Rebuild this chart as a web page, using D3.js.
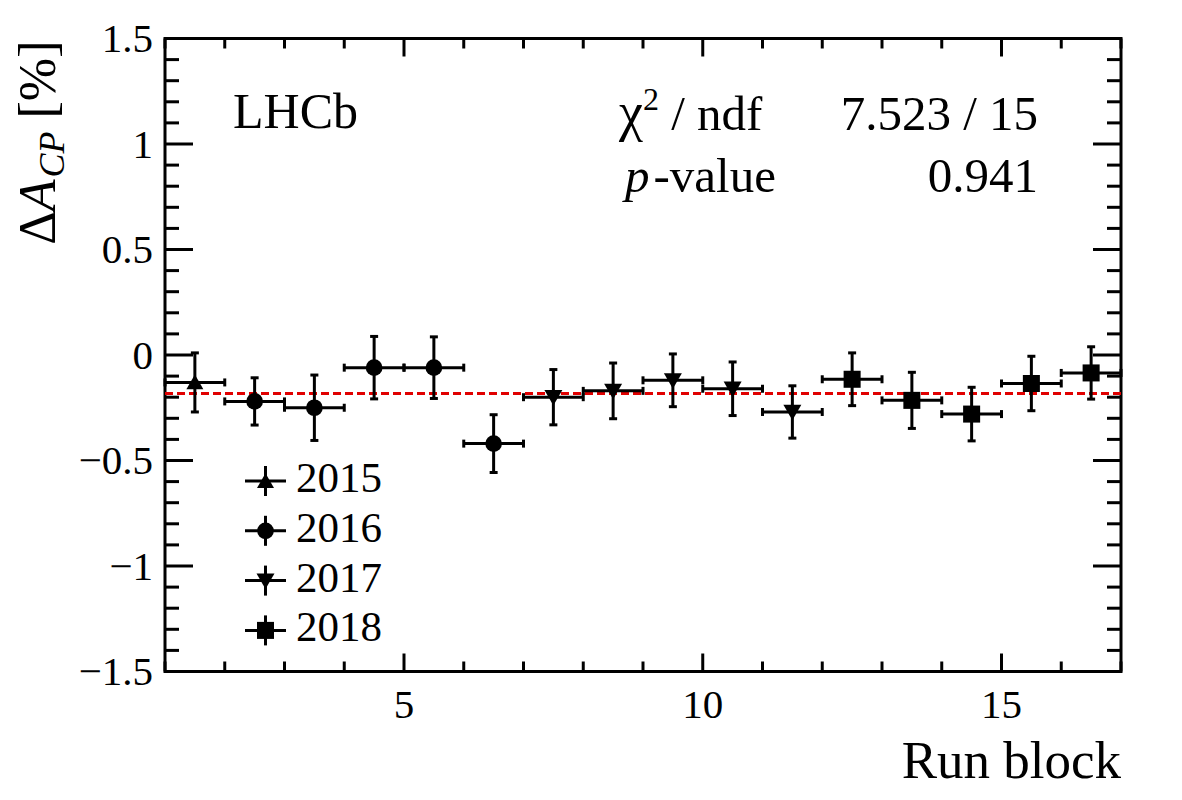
<!DOCTYPE html>
<html lang="en">

<head>
    <meta charset="UTF-8">
    <title>Delta A_CP per run block</title>
    <script src="https://d3js.org/d3.v7.min.js"></script>
    <style>
        body {
            margin: 0;
            background: #fff;
        }

        svg text {
            font-family: "Liberation Serif", "DejaVu Serif", serif;
            fill: #000;
        }
    </style>
</head>

<body>
    <div id="chart"></div>

    <script>
        // data
        const runBlocks = [1.5, 2.5, 3.5, 4.5, 5.5, 6.5, 7.5, 8.5, 9.5, 10.5, 11.5, 12.5, 13.5, 14.5, 15.5, 16.5];
        const binHalf = [0.5, 0.5, 0.5, 0.5, 0.5, 0.5, 0.5, 0.5, 0.5, 0.5, 0.5, 0.5, 0.5, 0.5, 0.5, 0.5];
        const years = [2015, 2016, 2016, 2016, 2016, 2016, 2017, 2017, 2017, 2017, 2017, 2018, 2018, 2018, 2018, 2018];
        const deltaACP = [-0.13, -0.22, -0.25, -0.06, -0.06, -0.42, -0.20, -0.17, -0.12, -0.16, -0.27, -0.115, -0.215, -0.28, -0.135, -0.085];
        const errACP = [0.14, 0.112, 0.155, 0.148, 0.146, 0.137, 0.131, 0.132, 0.125, 0.127, 0.124, 0.125, 0.133, 0.127, 0.129, 0.124];
        const fitValue = -0.183;

        const legendYears = [2015, 2016, 2017, 2018];
        const xTicks = [5, 10, 15];
        const yTicks = [-1.5, -1, -0.5, 0, 0.5, 1, 1.5];
        const statValues = ["7.523 / 15", "0.941"];

        const width = 1182;
        const height = 800;
        const marginTop = 38.5;
        const marginRight = 61;
        const marginBottom = 128.5;
        const marginLeft = 165;

        const x = d3.scaleLinear()
            .domain([1, 17])
            .range([marginLeft, width - marginRight]);

        const y = d3.scaleLinear()
            .domain([-1.5, 1.5])
            .range([height - marginBottom, marginTop]);

        const svg = d3.select("#chart")
            .append("svg")
            .attr("width", width)
            .attr("height", height);

        svg.append("rect")
            .attr("width", width)
            .attr("height", height)
            .attr("fill", "#fff");

        // ticks on all four sides, pointing inward (ROOT style)
        const xMinor = d3.range(1, 17.01, 1);
        const yMinor = d3.range(-15, 15.01, 1).map(d => d / 10);
        const x0 = x.range()[0], x1 = x.range()[1];
        const y0 = y.range()[0], y1 = y.range()[1];

        const ticks = svg.append("g")
            .attr("stroke", "#000")
            .attr("stroke-width", 3);

        xMinor.forEach(v => {
            const len = v % 5 === 0 ? 18 : 10;
            ticks.append("line").attr("x1", x(v)).attr("x2", x(v)).attr("y1", y0).attr("y2", y0 - len);
            ticks.append("line").attr("x1", x(v)).attr("x2", x(v)).attr("y1", y1).attr("y2", y1 + len);
        });

        yMinor.forEach(v => {
            const major = Math.abs(Math.round(v * 10)) % 5 === 0;
            const len = major ? 28 : 14;
            ticks.append("line").attr("y1", y(v)).attr("y2", y(v)).attr("x1", x0).attr("x2", x0 + len);
            ticks.append("line").attr("y1", y(v)).attr("y2", y(v)).attr("x1", x1).attr("x2", x1 - len);
        });

        svg.append("rect")
            .attr("x", x0)
            .attr("y", y1)
            .attr("width", x1 - x0)
            .attr("height", y0 - y1)
            .attr("fill", "none")
            .attr("stroke", "#000")
            .attr("stroke-width", 3);

        // tick labels
        svg.append("g")
            .selectAll("text")
            .data(xTicks)
            .join("text")
            .attr("x", d => x(d))
            .attr("y", y0 + 46)
            .attr("text-anchor", "middle")
            .attr("font-size", 41)
            .text(d => d);

        svg.append("g")
            .selectAll("text")
            .data(yTicks)
            .join("text")
            .attr("x", x0 - 12)
            .attr("y", d => y(d))
            .attr("dy", "0.34em")
            .attr("text-anchor", "end")
            .attr("font-size", 41)
            .text(d => d < 0 ? "\u2212" + Math.abs(d) : d);

        // axis titles
        svg.append("text")
            .attr("x", x1)
            .attr("y", 778)
            .attr("text-anchor", "end")
            .attr("font-size", 53)
            .text("Run block");

        const yTitle = svg.append("text")
            .attr("transform", `translate(55,${y1 + 2}) rotate(-90)`)
            .attr("text-anchor", "end")
            .attr("font-size", 52);
        yTitle.append("tspan").text("Δ");
        yTitle.append("tspan").attr("font-style", "italic").text("A");
        yTitle.append("tspan").attr("font-style", "italic").attr("font-size", 36).attr("dy", 9).attr("dx", 2).text("CP");
        yTitle.append("tspan").attr("dy", -9).text(" [%]");

        // fit line
        svg.append("line")
            .attr("x1", x0)
            .attr("x2", x1)
            .attr("y1", y(fitValue))
            .attr("y2", y(fitValue))
            .attr("stroke", "#e00000")
            .attr("stroke-width", 3)
            .attr("stroke-dasharray", "8,4");

        // markers per year
        const shapeOf = {
            2015: { type: d3.symbolTriangle, size: 125, rot: 0, dy: 2 },
            2016: { type: d3.symbolCircle, size: 220, rot: 0, dy: 0 },
            2017: { type: d3.symbolTriangle, size: 140, rot: 180, dy: -2 },
            2018: { type: d3.symbolSquare, size: 290, rot: 0, dy: 0 }
        };

        function marker(g, year, cx, cy, scale) {
            const s = shapeOf[year];
            g.append("path")
                .attr("d", d3.symbol().type(s.type).size(s.size * scale)())
                .attr("transform", `translate(${cx},${cy + s.dy}) rotate(${s.rot})`)
                .attr("fill", "#000");
        }

        const points = runBlocks.map((rb, i) => ({
            x: rb, dx: binHalf[i], v: deltaACP[i], e: errACP[i], year: years[i]
        }));

        const cap = 4;
        const pts = svg.append("g");
        points.forEach(p => {
            const g = pts.append("g");
            const bars = g.append("g")
                .attr("stroke", "#000")
                .attr("stroke-width", 3);
            const cx = x(p.x), cy = y(p.v);
            const xl = x(p.x - p.dx), xr = x(p.x + p.dx);
            const yt = y(p.v + p.e), yb = y(p.v - p.e);
            bars.append("line").attr("x1", xl).attr("x2", xr).attr("y1", cy).attr("y2", cy);
            bars.append("line").attr("x1", cx).attr("x2", cx).attr("y1", yt).attr("y2", yb);
            bars.append("line").attr("x1", xl).attr("x2", xl).attr("y1", cy - cap).attr("y2", cy + cap);
            bars.append("line").attr("x1", xr).attr("x2", xr).attr("y1", cy - cap).attr("y2", cy + cap);
            bars.append("line").attr("x1", cx - cap).attr("x2", cx + cap).attr("y1", yt).attr("y2", yt);
            bars.append("line").attr("x1", cx - cap).attr("x2", cx + cap).attr("y1", yb).attr("y2", yb);
            marker(g, p.year, cx, cy, 1);
        });

        // legend
        const legend = svg.append("g");
        legendYears.forEach((yr, i) => {
            const lx = 265.5;
            const ly = 481 + i * 49.8;
            const g = legend.append("g");
            g.append("line").attr("x1", lx - 20.5).attr("x2", lx + 20.5).attr("y1", ly).attr("y2", ly)
                .attr("stroke", "#000").attr("stroke-width", 3);
            g.append("line").attr("x1", lx).attr("x2", lx).attr("y1", ly - 15).attr("y2", ly + 15)
                .attr("stroke", "#000").attr("stroke-width", 3);
            marker(g, yr, lx, ly, 1);
            g.append("text")
                .attr("x", 296)
                .attr("y", ly + 11)
                .attr("font-size", 43)
                .text(yr);
        });

        // labels
        svg.append("text")
            .attr("x", 233)
            .attr("y", 128)
            .attr("font-size", 50)
            .text("LHCb");

        const chi = svg.append("text")
            .attr("x", 619)
            .attr("y", 130)
            .attr("font-size", 49);
        chi.append("tspan").attr("font-size", 54).text("χ");
        chi.append("tspan").attr("font-size", 32).attr("dy", -20).text("2");
        chi.append("tspan").attr("dy", 20).text(" / ndf");

        const pv = svg.append("text")
            .attr("x", 625)
            .attr("y", 192)
            .attr("font-size", 49);
        pv.append("tspan").attr("font-style", "italic").text("p");
        pv.append("tspan").attr("dx", 4).text("-value");

        svg.append("g")
            .selectAll("text")
            .data(statValues)
            .join("text")
            .attr("x", 1038)
            .attr("y", (d, i) => 130 + i * 62)
            .attr("text-anchor", "end")
            .attr("font-size", 49)
            .text(d => d);
    </script>
</body>

</html>
